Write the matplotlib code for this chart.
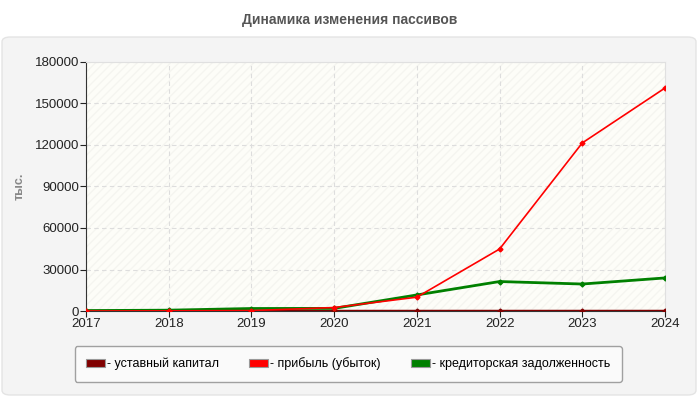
import matplotlib.pyplot as plt
from matplotlib.patches import FancyBboxPatch, Patch

years = [2017, 2018, 2019, 2020, 2021, 2022, 2023, 2024]
capital = [100, 100, 100, 100, 100, 100, 100, 100]
profit = [0, 100, 300, 2500, 10000, 44800, 121500, 161200]
payables = [300, 600, 1800, 1900, 11600, 21300, 19500, 23900]

labels = ["- уставный капитал", "- прибыль (убыток)", "- кредиторская задолженность"]
colors = ["#800000", "#ff0000", "#008000"]
y_ticks = [0, 30000, 60000, 90000, 120000, 150000, 180000]

plt.rcParams["font.family"] = ["Liberation Sans", "DejaVu Sans"]

fig = plt.figure(figsize=(7, 4), dpi=100)
fig.patch.set_facecolor("white")

# grey panel behind the chart
panel = FancyBboxPatch((2 / 700, 5 / 400), 694 / 700, 358 / 400,
                       boxstyle="round,pad=0,rounding_size=0.012",
                       transform=fig.transFigure, facecolor="#f4f4f4",
                       edgecolor="#e4e4e4", linewidth=1, zorder=-5)
fig.patches.append(panel)

fig.text(0.5, 1 - 20 / 400, "Динамика изменения пассивов", ha="center", va="center",
         fontsize=10, fontweight="bold", color="#555555")

ax = fig.add_axes([86 / 700, 89 / 400, 579 / 700, 249 / 400])
ax.set_zorder(1)
ax.set_facecolor("#fdfdf8")
ax.add_patch(plt.Rectangle((0, 0), 1, 1, transform=ax.transAxes, facecolor="none",
                           edgecolor="#f5f5f0", hatch="////", linewidth=0, zorder=0))

for vals, c in zip([capital, profit, payables], colors):
    lw = 2.5 if c == "#800000" else (1.2 if c == "#ff0000" else 2)
    ax.plot(years, vals, color=c, linewidth=lw, marker="D", markersize=2.5, zorder=3)
# keep red above green where they overlap
ax.lines[1].set_zorder(4)

ax.set_xlim(2017, 2024)
ax.set_ylim(0, 180000)
ax.set_xticks(years)
ax.set_yticks(y_ticks)
ax.tick_params(labelsize=9.5, colors="#222222", length=4, pad=1)
ax.grid(True, linestyle=(0, (4, 3)), color="#dddddd", linewidth=0.8)
ax.set_axisbelow(True)
for s in ["top", "right"]:
    ax.spines[s].set_color("#e0e0e0")
for s in ["left", "bottom"]:
    ax.spines[s].set_color("#333333")

ax.set_ylabel("тыс.", fontsize=9, fontweight="bold", color="#888888")
ax.yaxis.set_label_coords(-60 / 579, 0.5)

handles = [Patch(facecolor=c, edgecolor="#999999", linewidth=0.8) for c in colors]
leg = fig.legend(handles, labels, loc="center", bbox_to_anchor=(348 / 700, 1 - 364 / 400),
                 ncol=3, fontsize=9, frameon=True, fancybox=True, handlelength=1.5,
                 handleheight=0.7, handletextpad=0.2, columnspacing=2.4,
                 borderpad=0.9)
leg.get_frame().set_facecolor("#fafafa")
leg.get_frame().set_edgecolor("#a0a0a0")
leg.get_frame().set_alpha(1)

fig.savefig("out.png", dpi=100, facecolor="white")
